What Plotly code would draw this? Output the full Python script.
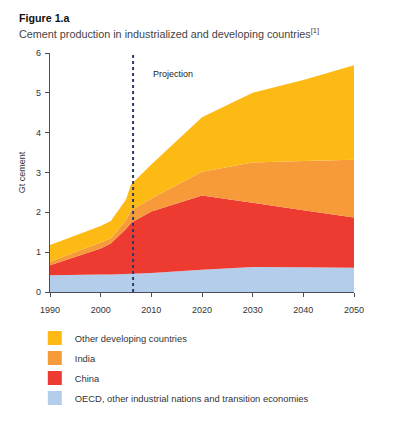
import plotly.graph_objects as go

years = [1990, 2000, 2002, 2005, 2006, 2010, 2020, 2030, 2040, 2050]
oecd = [0.42, 0.44, 0.44, 0.45, 0.46, 0.48, 0.56, 0.63, 0.62, 0.61]
china = [0.25, 0.65, 0.78, 1.13, 1.28, 1.54, 1.86, 1.61, 1.43, 1.26]
india = [0.09, 0.15, 0.12, 0.22, 0.31, 0.33, 0.60, 1.01, 1.24, 1.45]
other = [0.42, 0.42, 0.44, 0.52, 0.65, 0.85, 1.37, 1.75, 2.03, 2.37]

series_names = ["OECD, other industrial nations and transition economies",
                "China", "India", "Other developing countries"]
series_values = [oecd, china, india, other]
colors = ["#B3CDEA", "#EE3B32", "#F79B3A", "#FDBA14"]

projection_year = 2006.4
x_ticks = [1990, 2000, 2010, 2020, 2030, 2040, 2050]
y_ticks = [0, 1, 2, 3, 4, 5, 6]

FONT = "Liberation Sans, Arial, sans-serif"
AX = "#4a4d57"

fig = go.Figure()
for name, vals, col in zip(series_names, series_values, colors):
    fig.add_trace(go.Scatter(
        x=years, y=vals, stackgroup="one", mode="none",
        fillcolor=col, line=dict(width=0), showlegend=False, hoverinfo="skip"))

# legend entries (square swatches), shown top-down in reversed order
for i, (name, col) in enumerate(reversed(list(zip(series_names, colors)))):
    fig.add_trace(go.Scatter(
        x=[None], y=[None], mode="markers", name=name, legendgroup=f"g{i}",
        marker=dict(symbol="square", size=14, color=col, line=dict(width=0))))

fig.add_shape(type="line", x0=projection_year, x1=projection_year, y0=0, y1=6,
              xref="x", yref="y", line=dict(color="#2d3a66", width=2, dash="dot"))

fig.add_annotation(x=2009.9, y=5.48, xref="x", yref="y", text="Projection",
                   showarrow=False, xanchor="left", yanchor="middle",
                   font=dict(family=FONT, size=9, color="#222"))

fig.add_annotation(x=-0.1086, y=1.146, xref="paper", yref="paper",
                   text="<b>Figure 1.a</b>", showarrow=False, xanchor="left",
                   yanchor="middle", font=dict(family=FONT, size=10.7, color="#111"))
fig.add_annotation(x=-0.1086, y=1.084, xref="paper", yref="paper",
                   text="Cement production in industrialized and developing countries<sup>[1]</sup>",
                   showarrow=False, xanchor="left", yanchor="middle",
                   font=dict(family=FONT, size=10.8, color="#444"))

fig.update_layout(
    width=392, height=424,
    margin=dict(l=42, r=46, t=45, b=140),
    paper_bgcolor="white", plot_bgcolor="white",
    font=dict(family=FONT, size=9, color="#333"),
    xaxis=dict(range=[1990, 2050], tickvals=x_ticks, showgrid=False, zeroline=False,
               showline=True, linecolor=AX, linewidth=1.2, ticks="outside",
               ticklen=4, tickcolor=AX, ticklabelstandoff=5,
               tickfont=dict(size=9, color="#333")),
    yaxis=dict(range=[0, 6], tickvals=y_ticks, showgrid=False, zeroline=False,
               showline=True, linecolor=AX, linewidth=1.2, ticks="outside",
               ticklen=4, tickcolor=AX, ticklabelstandoff=2,
               tickfont=dict(size=9, color="#333"),
               title=dict(text="Gt cement", font=dict(size=9, color="#333"), standoff=8)),
    legend=dict(x=-0.05, xanchor="left", y=-0.132, yanchor="top",
                bgcolor="rgba(0,0,0,0)", itemsizing="trace", tracegroupgap=1,
                font=dict(family=FONT, size=9.4, color="#333")),
)

fig.write_html("out.html")
